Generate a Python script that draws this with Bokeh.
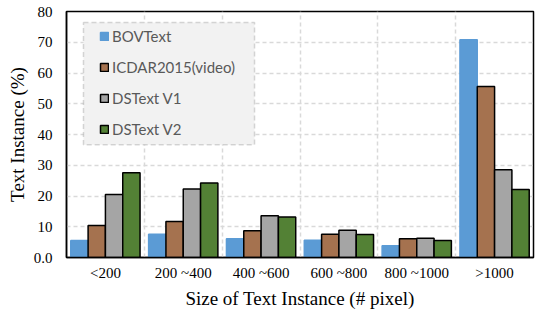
from bokeh.plotting import figure
from bokeh.models import (FactorRange, Range1d, FixedTicker, CustomJSTickFormatter,
                          Legend, LegendItem, BoxAnnotation, ColumnDataSource)
from bokeh.transform import dodge
from bokeh.embed import file_html
from bokeh.resources import INLINE

categories = ["<200", "200 ~400", "400 ~600", "600 ~800", "800 ~1000", ">1000"]
series_names = ["BOVText", "ICDAR2015(video)", "DSText V1", "DSText V2"]
bovtext = [5.5, 7.6, 6.1, 5.6, 3.8, 70.8]
icdar2015 = [10.4, 11.7, 8.7, 7.6, 6.1, 55.6]
dstext_v1 = [20.5, 22.3, 13.6, 8.9, 6.3, 28.5]
dstext_v2 = [27.6, 24.2, 13.2, 7.5, 5.5, 22.1]
y_ticks = [0, 10, 20, 30, 40, 50, 60, 70, 80]

colors = ["#5b9bd5", "#a5724f", "#a5a5a5", "#538135"]
outlines = ["#5b9bd5", "black", "black", "black"]
keys = ["bov", "icdar", "v1", "v2"]

source = ColumnDataSource(dict(cat=categories, bov=bovtext, icdar=icdar2015,
                               v1=dstext_v1, v2=dstext_v2))

p = figure(width=540, height=313, output_backend="svg", toolbar_location=None,
           x_range=FactorRange(*categories, range_padding=0), y_range=Range1d(0, 80),
           min_border_left=66, min_border_right=7, min_border_top=11, min_border_bottom=56)

bw = 0.2225
offsets = [-1.5 * bw, -0.5 * bw, 0.5 * bw, 1.5 * bw]
renderers = []
for k, c, o, off in zip(keys, colors, outlines, offsets):
    r = p.vbar(x=dodge("cat", off, range=p.x_range), top=k, width=bw, source=source,
               fill_color=c, line_color=o, line_width=1.5)
    renderers.append(r)

serif = "Liberation Serif"
p.outline_line_color = "black"
p.outline_line_width = 1.5
p.background_fill_color = "white"
p.border_fill_color = "white"

# y axis
p.yaxis.ticker = FixedTicker(ticks=y_ticks)
p.yaxis.formatter = CustomJSTickFormatter(code="return tick == 0 ? '0.0' : tick.toString();")
p.yaxis.axis_label = "Text Instance (%)"
p.xaxis.axis_label = "Size of Text Instance (# pixel)"
for ax in (p.xaxis[0], p.yaxis[0]):
    ax.major_tick_line_color = None
    ax.minor_tick_line_color = None
    ax.major_tick_out = 0
    ax.axis_line_color = "black"
    ax.axis_line_width = 1.5
    ax.major_label_text_font = serif
    ax.major_label_text_font_size = "15px"
    ax.major_label_text_color = "black"
    ax.axis_label_text_font = serif
    ax.axis_label_text_font_size = "19px"
    ax.axis_label_text_font_style = "normal"
    ax.axis_label_text_color = "black"
p.yaxis.major_label_standoff = 14
p.yaxis.axis_label_standoff = 3
p.xaxis.major_label_standoff = 7
p.xaxis.axis_label_standoff = 4

# grids
p.ygrid.ticker = FixedTicker(ticks=y_ticks)
p.xgrid.ticker = FixedTicker(ticks=[1, 2, 3, 4, 5])
for g in (p.xgrid[0], p.ygrid[0]):
    g.grid_line_color = "#d9d9d9"
    g.grid_line_dash = "4 3"
    g.grid_line_width = 1.5

# legend frame
box = BoxAnnotation(left=0.218, right=2.416, bottom=36.7, top=76.4,
                    fill_color="#f2f2f2", fill_alpha=1.0,
                    line_color="#7f7f7f", line_dash="5 3", line_width=1.5)
p.add_layout(box)

legend = Legend(items=[LegendItem(label=n, renderers=[r]) for n, r in zip(series_names, renderers)],
                location=(33, 118), padding=0, spacing=11, label_height=20,
                glyph_width=10, glyph_height=10, label_standoff=3,
                label_text_font="Lato", label_text_font_size="15px",
                label_text_color="#595959",
                background_fill_alpha=0, border_line_color=None)
p.add_layout(legend)

open("out.html", "w").write(file_html(p, INLINE))
